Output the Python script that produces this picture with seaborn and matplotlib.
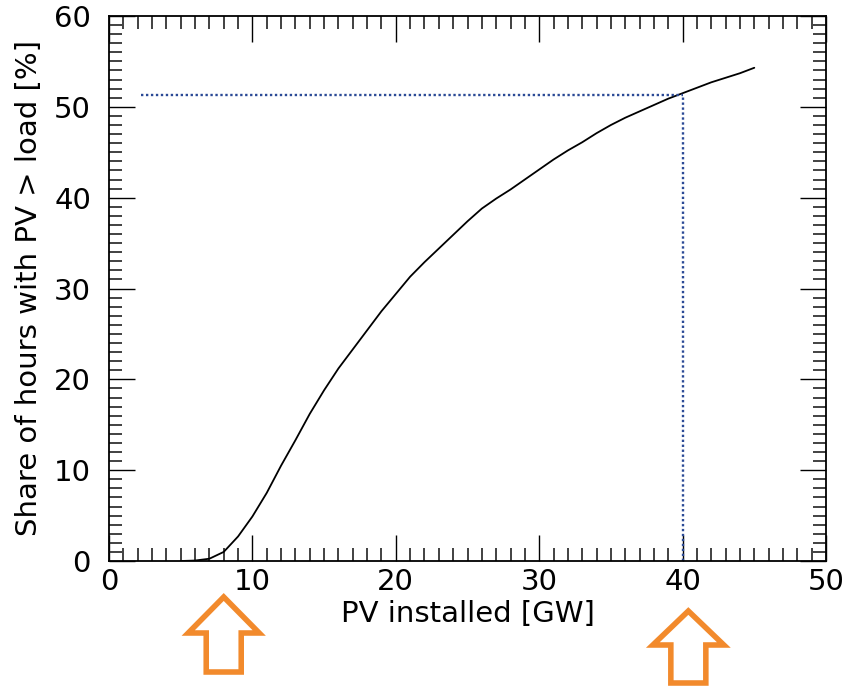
import matplotlib
matplotlib.use("Agg")
import matplotlib.pyplot as plt
from matplotlib.patches import Polygon
from matplotlib.ticker import MultipleLocator
import seaborn as sns
import pandas as pd

# ---- data ----
pv_installed = [5, 6, 7, 8, 9, 10, 11, 12, 13, 14, 15, 16, 17, 18, 19, 20,
                21, 22, 23, 24, 25, 26, 27, 28, 29, 30, 31, 32, 33, 34, 35,
                36, 37, 38, 39, 40, 41, 42, 43, 44, 45]
share_hours = [0.0, 0.05, 0.25, 1.0, 2.7, 4.9, 7.5, 10.5, 13.3, 16.2, 18.8,
               21.2, 23.3, 25.4, 27.5, 29.4, 31.3, 32.9, 34.4, 35.9, 37.4,
               38.8, 39.9, 40.9, 42.0, 43.1, 44.2, 45.2, 46.1, 47.1, 48.0,
               48.8, 49.5, 50.2, 50.9, 51.5, 52.1, 52.7, 53.2, 53.7, 54.3]
ref_x = [2.2, 40.0]        # horizontal dotted guide from x=2.2 to 40
ref_y = 51.3               # share at 40 GW
arrow_x = [8.0, 40.4]      # orange arrows under the axis

xlabel = "PV installed [GW]"
ylabel = "Share of hours with PV > load [%]"

df = pd.DataFrame({"pv": pv_installed, "share": share_hours})

sns.set_style("ticks")
plt.rcParams["font.family"] = ["DejaVu Sans"]
plt.rcParams["text.color"] = "black"
plt.rcParams["axes.labelcolor"] = "black"

W, H = 842, 686
fig = plt.figure(figsize=(W / 100, H / 100), dpi=100)
ax = fig.add_axes([109 / W, 1 - 561 / H, (826 - 109) / W, (561 - 16) / H])

sns.lineplot(data=df, x="pv", y="share", color="black", linewidth=1.3, ax=ax)

dot_col = "#2b4a96"
ax.plot(ref_x, [ref_y, ref_y], linestyle=(0, (1, 1.1)), color=dot_col, linewidth=1.7)
ax.plot([ref_x[1], ref_x[1]], [0, ref_y], linestyle=(0, (1, 1.1)), color=dot_col, linewidth=1.7)

ax.set_xlim(0, 50)
ax.set_ylim(0, 60)
ax.xaxis.set_major_locator(MultipleLocator(10))
ax.xaxis.set_minor_locator(MultipleLocator(1))
ax.yaxis.set_major_locator(MultipleLocator(10))
ax.yaxis.set_minor_locator(MultipleLocator(1))

for s in ax.spines.values():
    s.set_visible(True)
    s.set_linewidth(1.3)
    s.set_color("black")

ax.tick_params(which="both", direction="in", top=True, right=True, colors="black",
               labelcolor="black")
ax.tick_params(which="major", length=19, width=1.0, labelsize=21)
ax.tick_params(which="minor", length=9.5, width=1.3, color="#333333")
ax.tick_params(axis="x", which="major", pad=5)
ax.tick_params(axis="y", which="major", pad=13)

ax.set_xlabel(xlabel, fontsize=21, labelpad=3)
ax.set_ylabel(ylabel, fontsize=21, labelpad=8)

# orange outlined up-arrows below the x axis
x0_px, px_per_unit = 109, (826 - 109) / 50
arrow_rows = [(597, 633, 672), (611, 645, 683)]
for xv, (tip, base, bottom) in zip(arrow_x, arrow_rows):
    cx = x0_px + xv * px_per_unit
    hw, sw = 35.5, 17.5
    pts = [(cx, tip), (cx + hw, base), (cx + sw, base), (cx + sw, bottom),
           (cx - sw, bottom), (cx - sw, base), (cx - hw, base)]
    pts = [(px / W, 1 - py / H) for px, py in pts]
    fig.patches.append(Polygon(pts, closed=True, transform=fig.transFigure,
                               facecolor="white", edgecolor="#f28a2c",
                               linewidth=4, joinstyle="miter", figure=fig))

fig.savefig("out.png", dpi=100, facecolor="white")
